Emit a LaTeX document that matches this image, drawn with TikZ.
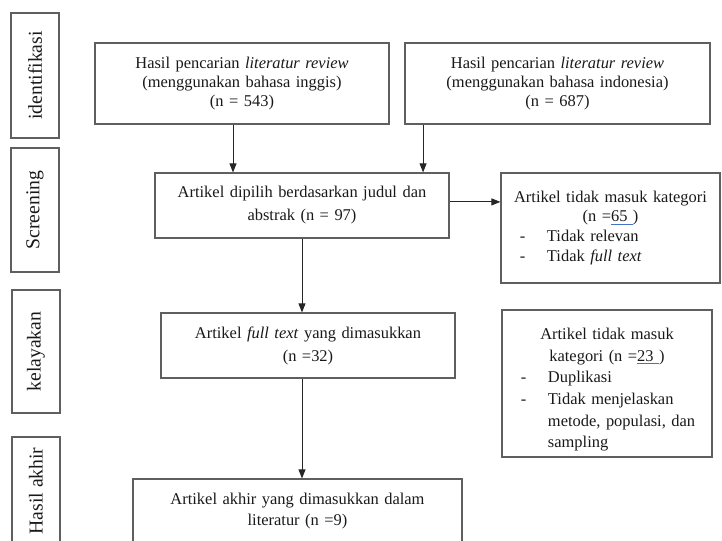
\documentclass[tikz,border=0pt]{standalone}
\usepackage{fontspec}
\setmainfont{Liberation Serif}
\usetikzlibrary{arrows.meta}
\setlength{\parindent}{0pt}

\newcommand{\linkul}[1]{\setbox0\hbox{#1}\rlap{\color{prisma_link}\rule[-2.2pt]{\wd0}{0.6pt}}\box0}
\newcommand{\exitem}[1]{\par\hangindent=1.15cm\hangafter=1\noindent\makebox[1.15cm][l]{\hspace*{0.475cm}-}#1}

\begin{document}
\begin{tikzpicture}[x=0.025cm,y=-0.025cm,
  box/.style={shape=rectangle,draw=prisma_line,line width=0.8pt,text=black!90,inner sep=0pt,
    font=\fontsize{11.7}{13.3}\selectfont},
  stagebox/.style={box,rotate=90,minimum height=1.2cm,font=\fontsize{14}{16}\selectfont},
  link/.style={-{Triangle[length=6.5pt,width=5pt]},line width=0.7pt,draw=black!85}]
\definecolor{prisma_line}{RGB}{95,95,95}
\definecolor{prisma_link}{RGB}{68,114,196}
\useasboundingbox (0,0) rectangle (722,540);
\clip (0,0) rectangle (722,540);

% tahapan
\node[stagebox,minimum width=3.125cm] (st_id) at (35,75.5) {identifikasi};
\node[stagebox,minimum width=3.1cm] (st_scr) at (35,210) {Screening};
\node[stagebox,minimum width=3.075cm] (st_kel) at (36,351.5) {kelayakan};
\node[stagebox,minimum width=2.7cm] (st_akh) at (36,491) {Hasil akhir};

% hasil pencarian
\node[box,align=center,text width=7.35cm,minimum height=2.025cm] (src_en) at (242,83.5) {Hasil pencarian \textit{literatur review}\\ (menggunakan bahasa inggis)\\ (n = 543)};
\node[box,align=center,text width=7.625cm,minimum height=2.025cm] (src_id) at (557.5,83.5) {Hasil pencarian \textit{literatur review}\\ (menggunakan bahasa indonesia)\\ (n = 687)};

% artikel
\node[box,align=center,text width=7.35cm,minimum height=1.625cm,font=\fontsize{11.7}{16.4}\selectfont] (art_scr) at (302,205.5) {Artikel dipilih berdasarkan judul dan\\ abstrak (n = 97)};
\node[box,align=center,text width=7.35cm,minimum height=1.625cm,font=\fontsize{11.7}{16.4}\selectfont] (art_kel) at (308,345.5) {Artikel \textit{full text} yang dimasukkan\\ (n =32)};
\node[box,align=center,text width=8.225cm,minimum height=1.6cm,font=\fontsize{11.7}{15.4}\selectfont] (art_akh) at (297.5,511) {Artikel akhir yang dimasukkan dalam\\ literatur (n =9)};

% tidak masuk kategori
\node[box,text width=5.475cm,minimum height=2.75cm,font=\fontsize{11.7}{14.2}\selectfont] (out_scr) at (610.5,228) {%
  {\centering Artikel tidak masuk kategori\\ (n =\linkul{65\ })\par}
  \raggedright
  \exitem{Tidak relevan}
  \exitem{Tidak \textit{full text}}\par};
\node[box,text width=5.25cm,minimum height=3.675cm,font=\fontsize{11.7}{15.4}\selectfont] (out_kel) at (607,383.5) {%
  {\centering\rule{0pt}{17pt}Artikel tidak masuk\\ kategori (n =\linkul{23\ })\par}
  \raggedright
  \exitem{Duplikasi}
  \exitem{Tidak menjelaskan\newline metode, populasi, dan\newline sampling}\par};

\draw[link] ([xshift=-0.225cm]src_en.south) to ([xshift=-0.225cm]src_en.south |- art_scr.north);
\draw[link] ([xshift=-3.36cm]src_id.south) to ([xshift=-3.36cm]src_id.south |- art_scr.north);
\draw[link] ([yshift=0.09cm]art_scr.east) to ([yshift=0.09cm]art_scr.east -| out_scr.west);
\draw[link] (art_scr.south) to (art_scr.south |- art_kel.north);
\draw[link] (art_kel.south -| art_scr.south) to (art_scr.south |- art_akh.north);
\end{tikzpicture}
\end{document}
